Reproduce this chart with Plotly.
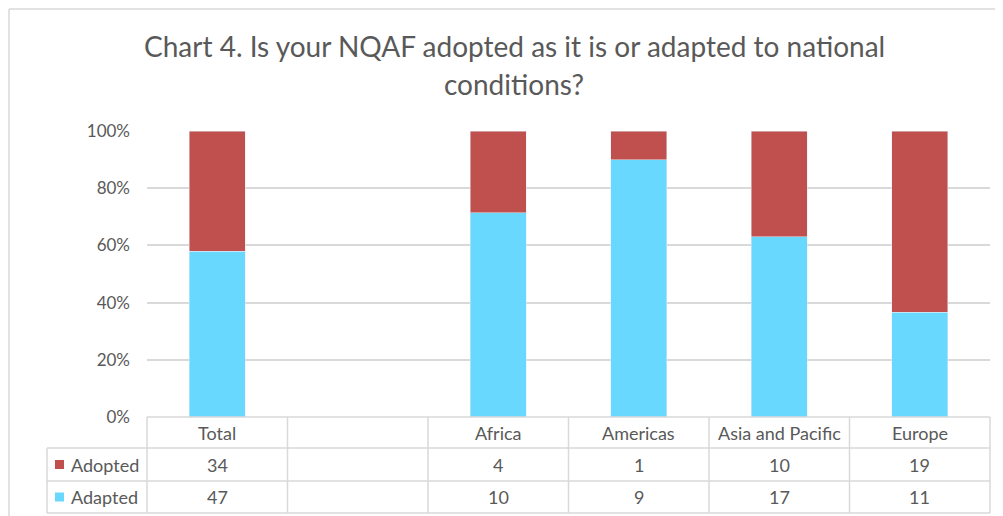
import plotly.graph_objects as go

# ---- data ----
categories = ["Total", "", "Africa", "Americas", "Asia and Pacific", "Europe"]
adopted = [34, None, 4, 1, 10, 19]
adapted = [47, None, 10, 9, 17, 11]
series_names = ["Adopted", "Adapted"]
y_ticks = [0, 20, 40, 60, 80, 100]
y_tick_labels = ["0%", "20%", "40%", "60%", "80%", "100%"]
title_lines = ["Chart 4. Is your NQAF adopted as it is or adapted to national", "conditions?"]

RED = "#C0504D"
BLUE = "#69D8FF"
GRID = "#D9D9D9"
TXT = "#595959"
FONT = "Lato"

OFF = 8  # page body margin
W, H = 1003 - OFF, 516 - OFF
L, R, T, B = 147 - OFF, 990 - OFF, 131 - OFF, 417 - OFF  # plot area pixels

def px(xp):
    return (xp - OFF - L) / (R - L)

def py(yp):
    return (B - (yp - OFF)) / (B - T)

x = list(range(len(categories)))

fig = go.Figure()
fig.add_trace(go.Bar(x=x, y=adapted, name=series_names[1], marker_color=BLUE, width=0.4))
fig.add_trace(go.Bar(x=x, y=adopted, name=series_names[0], marker_color=RED, width=0.4))

shapes = []
annotations = []
line = dict(color=GRID, width=1.5)

# chart frame
shapes.append(dict(type="line", xref="paper", yref="paper", x0=px(9), x1=px(1010), y0=py(9), y1=py(9), line=line))
shapes.append(dict(type="line", xref="paper", yref="paper", x0=px(9), x1=px(9), y0=py(9), y1=py(520), line=line))

# data table
row_y = [417, 448, 481, 513]
n = len(categories)
shapes.append(dict(type="line", xref="paper", yref="paper", x0=0, x1=1, y0=py(row_y[0]), y1=py(row_y[0]), line=line))
for yy in row_y[1:]:
    shapes.append(dict(type="line", xref="paper", yref="paper", x0=px(47), x1=1, y0=py(yy), y1=py(yy), line=line))
for i in range(n + 1):
    shapes.append(dict(type="line", xref="paper", yref="paper", x0=i / n, x1=i / n,
                       y0=py(row_y[0]), y1=py(row_y[-1]), line=line))
shapes.append(dict(type="line", xref="paper", yref="paper", x0=px(47), x1=px(47),
                   y0=py(row_y[1]), y1=py(row_y[-1]), line=line))

cell_font = dict(family=FONT, size=18, color=TXT)
centers = [(row_y[k] + row_y[k + 1]) / 2 for k in range(3)]
for i, c in enumerate(categories):
    annotations.append(dict(x=i, xref="x", y=py(centers[0]), yref="paper", text=c, showarrow=False,
                            xanchor="center", yanchor="middle", font=cell_font))
    for vals, rc in ((adopted, centers[1]), (adapted, centers[2])):
        if vals[i] is not None:
            annotations.append(dict(x=i, xref="x", y=py(rc), yref="paper", text=str(vals[i]),
                                    xanchor="center", yanchor="middle", showarrow=False, font=cell_font))

for name, col, rc in ((series_names[0], RED, centers[1]), (series_names[1], BLUE, centers[2])):
    shapes.append(dict(type="rect", xref="paper", yref="paper", x0=px(55), x1=px(64),
                       y0=py(rc - 4.5), y1=py(rc + 4.5), fillcolor=col, line=dict(width=0)))
    annotations.append(dict(x=px(69), xref="paper", y=py(rc), yref="paper", text=name, xanchor="left",
                            yanchor="middle", showarrow=False, font=cell_font))

for t, yy in zip(title_lines, (46, 84)):
    annotations.append(dict(x=px(514), xref="paper", y=py(yy), yref="paper", text=t,
                            xanchor="center", yanchor="middle",
                            showarrow=False, font=dict(family=FONT, size=28, color=TXT)))

fig.update_layout(
    width=W, height=H,
    margin=dict(l=L, r=W - R, t=T, b=H - B, pad=0),
    barmode="stack", barnorm="percent",
    paper_bgcolor="white", plot_bgcolor="white",
    showlegend=False,
    shapes=shapes, annotations=annotations,
    font=dict(family=FONT, color=TXT),
)
fig.update_xaxes(range=[-0.5, n - 0.5], showticklabels=False, showgrid=False, zeroline=False, ticks="")
fig.update_yaxes(range=[0, 100], tickmode="array", tickvals=y_ticks, ticktext=y_tick_labels,
                 showgrid=True, gridcolor=GRID,
                 gridwidth=1.5, zeroline=False, tickfont=dict(family=FONT, size=17, color=TXT),
                 ticklabelstandoff=16)

fig.write_html("out.html")
